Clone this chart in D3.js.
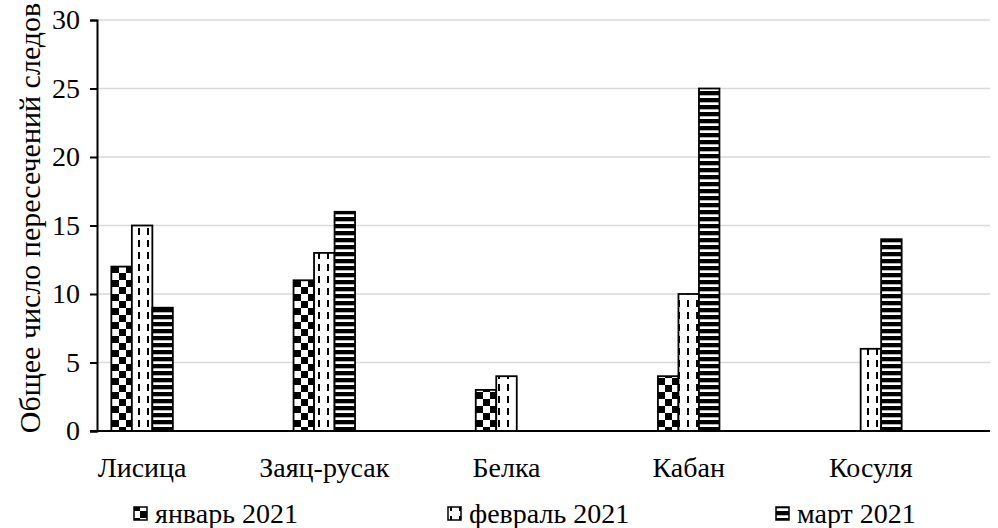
<!DOCTYPE html>
<html><head><meta charset="utf-8">
<script src="https://cdn.jsdelivr.net/npm/d3@7/dist/d3.min.js"></script>
<style>
html,body{margin:0;padding:0;background:#fff;}
</style></head>
<body>
<svg id="chart" width="998" height="528"></svg>
<script>
const categories = ["Лисица", "Заяц-русак", "Белка", "Кабан", "Косуля"];
const seriesNames = ["январь 2021", "февраль 2021", "март 2021"];
const january = [12, 11, 3, 4, 0];
const february = [15, 13, 4, 10, 6];
const march = [9, 16, 0, 25, 14];
const yTicks = [0, 5, 10, 15, 20, 25, 30];
const yTitle = "Общее число пересечений следов";

const seriesValues = [january, february, march];
const svg = d3.select("#chart");
const FS = 28;
const FONT = "'Liberation Serif', 'Times New Roman', Tinos, 'DejaVu Serif', serif";

// patterns
const defs = svg.append("defs");
const pChk = defs.append("pattern").attr("id","pat0").attr("patternUnits","userSpaceOnUse")
  .attr("width",14).attr("height",14);
pChk.append("rect").attr("width",14).attr("height",14).attr("fill","#fff");
pChk.append("rect").attr("x",0).attr("y",0).attr("width",7).attr("height",7).attr("fill","#000");
pChk.append("rect").attr("x",7).attr("y",7).attr("width",7).attr("height",7).attr("fill","#000");

const pDash = defs.append("pattern").attr("id","pat1").attr("patternUnits","userSpaceOnUse")
  .attr("width",9).attr("height",12);
pDash.append("rect").attr("width",9).attr("height",12).attr("fill","#fff");
pDash.append("rect").attr("x",3).attr("y",0).attr("width",2).attr("height",7).attr("fill","#000");

const pStr = defs.append("pattern").attr("id","pat2").attr("patternUnits","userSpaceOnUse")
  .attr("width",8).attr("height",7);
pStr.append("rect").attr("width",8).attr("height",7).attr("fill","#fff");
pStr.append("rect").attr("x",0).attr("y",0).attr("width",8).attr("height",4.3).attr("fill","#000");

// scales
const plotLeft = 97, plotRight = 990, plotTop = 20, plotBottom = 431;
const y = d3.scaleLinear().domain([0, 30]).range([plotBottom, plotTop]);
const x = d3.scaleBand().domain(categories).range([51, 962]);
const groupW = 61.5;
const xs = d3.scaleBand().domain(seriesNames).range([0, groupW]);

// gridlines
svg.append("g").selectAll("line").data(yTicks.filter(t => t > 0)).join("line")
  .attr("x1", plotLeft).attr("x2", plotRight)
  .attr("y1", d => y(d)).attr("y2", d => y(d))
  .attr("stroke", "#d9d9d9").attr("stroke-width", 1.3);

// bars
seriesNames.forEach((s, si) => {
  svg.append("g").selectAll("rect")
    .data(categories.map((c, ci) => ({c, v: seriesValues[si][ci]})).filter(d => d.v > 0))
    .join("rect")
    .attr("x", d => x(d.c) + x.bandwidth()/2 - groupW/2 + xs(s))
    .attr("width", xs.bandwidth())
    .attr("y", d => y(d.v))
    .attr("height", d => y(0) - y(d.v))
    .attr("fill", `url(#pat${si})`)
    .attr("stroke", "#000").attr("stroke-width", 1.8);
});

// y axis
const yAxis = d3.axisLeft(y).tickValues(yTicks).tickSize(7).tickPadding(10).tickFormat(d3.format("d"));
const gy = svg.append("g").attr("transform", `translate(${plotLeft},0)`).call(yAxis);
gy.select(".domain").attr("stroke", "#000").attr("stroke-width", 2);
gy.selectAll(".tick line").attr("stroke", "#000").attr("stroke-width", 2);
gy.selectAll("text").attr("fill", "#000")
  .style("font-family", FONT).style("font-size", FS + "px");

// x axis line
svg.append("line").attr("x1", plotLeft - 7).attr("x2", plotRight)
  .attr("y1", y(0)).attr("y2", y(0)).attr("stroke", "#000").attr("stroke-width", 2);

// x labels
svg.append("g").selectAll("text").data(categories).join("text")
  .attr("x", d => x(d) + x.bandwidth()/2)
  .attr("y", 477)
  .attr("text-anchor", "middle")
  .style("font-family", FONT).style("font-size", FS + "px")
  .text(d => d);

// y title
svg.append("text")
  .attr("transform", `translate(40,218) rotate(-90)`)
  .attr("text-anchor", "middle")
  .style("font-family", FONT).style("font-size", "30px")
  .text(yTitle);

// legend
const legendX = [133, 447, 775];
const lg = svg.append("g").selectAll("g").data(seriesNames).join("g")
  .attr("transform", (d, i) => `translate(${legendX[i]},0)`);
lg.append("rect").attr("x", 1).attr("y", 507).attr("width", 13).attr("height", 13)
  .attr("fill", (d, i) => `url(#pat${i})`).attr("stroke", "#000").attr("stroke-width", 1.5);
lg.append("text").attr("x", 22).attr("y", 523)
  .style("font-family", FONT).style("font-size", FS + "px")
  .text(d => d);
</script>
</body></html>
